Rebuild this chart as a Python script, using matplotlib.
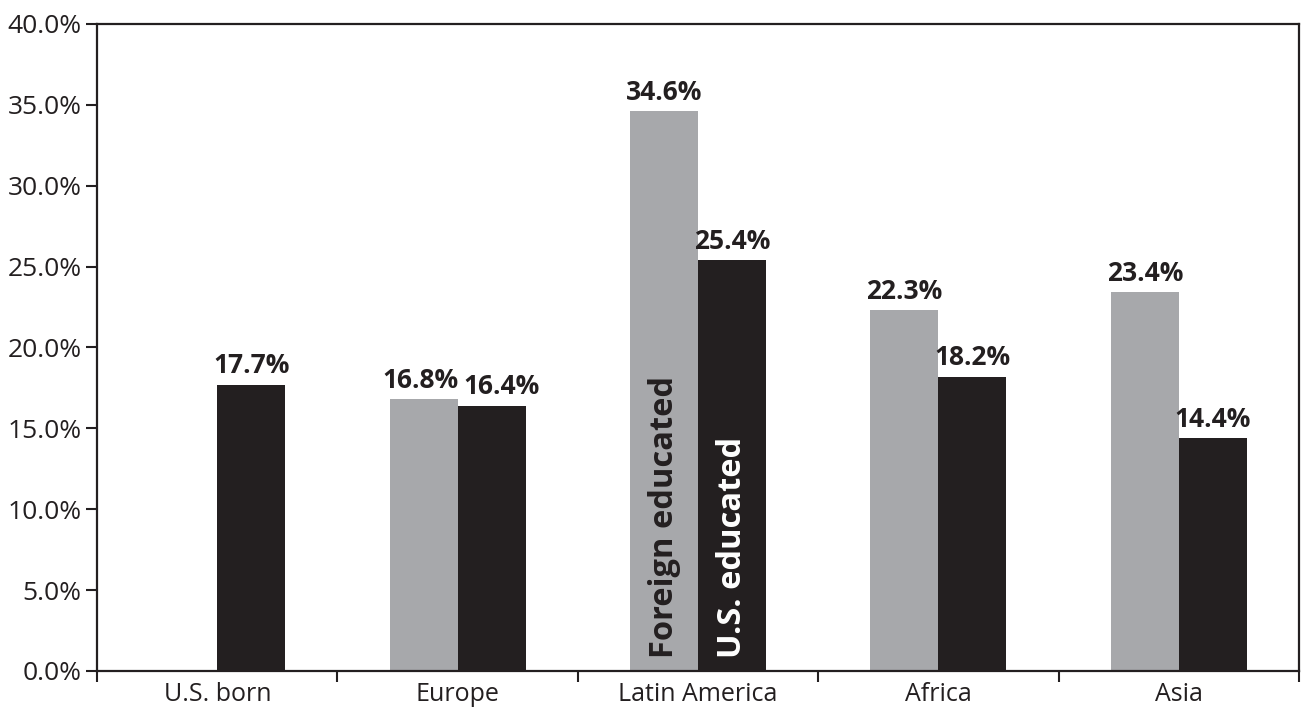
import matplotlib
matplotlib.use("Agg")
import matplotlib.pyplot as plt
import numpy as np

plt.rcParams['font.family'] = ['Open Sans', 'DejaVu Sans']

categories = ["U.S. born", "Europe", "Latin America", "Africa", "Asia"]
foreign_educated = [None, 16.8, 34.6, 22.3, 23.4]
us_educated = [17.7, 16.4, 25.4, 18.2, 14.4]
series_names = ["Foreign educated", "U.S. educated"]
y_ticks = [0, 5, 10, 15, 20, 25, 30, 35, 40]

GRAY = "#a7a8ab"
DARK = "#231f20"
width = 0.283


def value_label(ax, xpos, val, dx=0):
    ax.annotate(f"{val:.1f}%", xy=(xpos, val), xytext=(dx, 4),
                textcoords="offset points", ha="center", va="bottom",
                fontsize=19, fontweight="bold", color=DARK)


fig = plt.figure(figsize=(13.01, 7.12), dpi=100)
ax = fig.add_axes([0.0746, 0.0576, 0.9239, 0.9087])

x = np.arange(len(categories))
for i in x:
    fv = foreign_educated[i]
    uv = us_educated[i]
    # pull the two labels apart when the bars are nearly equal in height
    close = fv is not None and abs(fv - uv) < 1.5
    if fv is not None:
        ax.bar(i - width / 2, fv, width=width, color=GRAY, edgecolor="none")
        value_label(ax, i - width / 2, fv, dx=-2 if close else 0)
    ax.bar(i + width / 2, uv, width=width, color=DARK, edgecolor="none")
    value_label(ax, i + width / 2, uv, dx=7 if close else 0)

# Series names written inside the Latin America bars
li = categories.index("Latin America")
ax.text(li - width / 2, 0.8, series_names[0], rotation=90, ha="center", va="bottom",
        fontsize=23.5, fontweight="bold", color=DARK)
ax.text(li + width / 2, 0.8, series_names[1], rotation=90, ha="center", va="bottom",
        fontsize=23.5, fontweight="bold", color="white")

ax.set_xlim(-0.5, len(categories) - 0.5)
ax.set_ylim(0, 40)
ax.set_yticks(y_ticks)
ax.set_yticklabels([f"{t:.1f}%" for t in y_ticks], fontsize=19, color=DARK)

# Tick marks at category boundaries, labels at category centres
ax.set_xticks(np.arange(-0.5, len(categories), 1.0))
ax.set_xticklabels([])
ax.set_xticks(x, minor=True)
ax.set_xticklabels(categories, minor=True, fontsize=18, color=DARK)
ax.tick_params(axis="x", which="minor", length=0, pad=8)
ax.tick_params(axis="x", which="major", length=8, width=1.5, color=DARK, direction="out")
ax.tick_params(axis="y", length=8, width=1.5, color=DARK, direction="out", pad=3)

for s in ax.spines.values():
    s.set_linewidth(1.6)
    s.set_color(DARK)

fig.savefig("out.png", dpi=100)
